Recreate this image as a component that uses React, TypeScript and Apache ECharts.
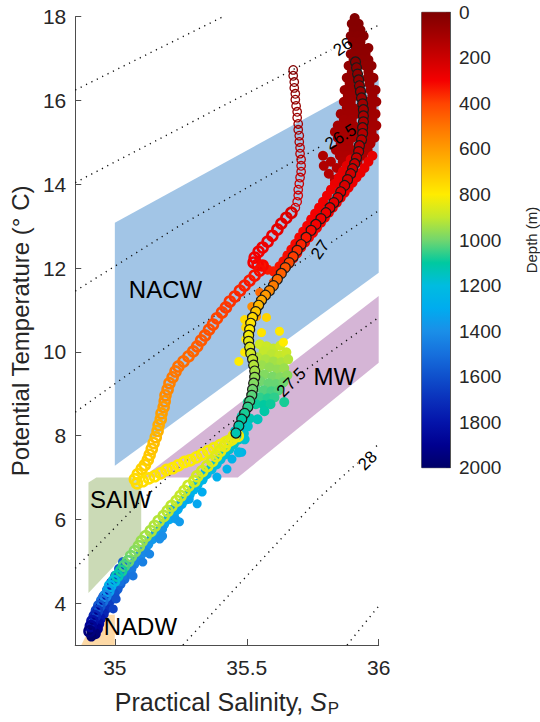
import React, { useEffect, useRef } from "react";
import * as echarts from "echarts";

const FONT = "'Liberation Sans', Arial, Helvetica, sans-serif";

// ---------- axes ----------
const SALINITY_MIN = 34.85;
const SALINITY_MAX = 36;
const SALINITY_TICKS = [35, 35.5, 36];
const TEMP_MIN = 3;
const TEMP_MAX = 18;
const TEMP_TICKS = [4, 6, 8, 10, 12, 14, 16, 18];
const DEPTH_MIN = 0;
const DEPTH_MAX = 2000;
const DEPTH_STEP = 200;

// depth colormap, 0 m -> 2000 m, every 100 m
const DEPTH_COLORS = [
  "#7f0000", "#a40000", "#cc0000", "#f50000", "#ff4400", "#ff7300", "#ff9c00",
  "#ffc400", "#ffec00", "#c4e82c", "#72d66e", "#00c9a0", "#00bce0", "#00acef",
  "#1a8fe8", "#1670dd", "#0f50cc", "#0a30bb", "#0414aa", "#000090", "#000068",
];

// ---------- water-mass regions [S, T] ----------
const NACW_REGION = [[35.0, 13.08], [36.0, 16.53], [36.0, 11.89], [35.0, 7.28]];
const MW_REGION = [[35.106, 7.0], [36.0, 11.33], [36.0, 9.74], [35.466, 7.0]];
const SAIW_REGION = [[34.9, 6.88], [34.93, 7.0], [35.1, 7.0], [35.1, 5.57], [34.9, 4.24]];
const NADW_REGION = [[34.873, 3.0], [35.0, 3.0], [35.0, 3.72], [34.93, 3.72]];

// ---------- isopycnals (sigma-theta) [S, T], "-" = gap for label ----------
const SIGMA_255 = [[34.85, 16.25], [35.41, 18.0]];
const SIGMA_260 = [[34.85, 14.04], [35.82, 17.21], "-", [35.91, 17.51], [36.0, 17.8]];
const SIGMA_265 = [[34.85, 11.45], [35.24, 12.99], [35.79, 14.94], "-", [35.91, 15.37], [36.0, 15.7]];
const SIGMA_270 = [[34.85, 8.56], [35.237, 10.3], [35.74, 12.29], "-", [35.82, 12.61], [36.0, 13.37]];
const SIGMA_275 = [[34.85, 4.83], [35.105, 6.48], [35.406, 8.15], [35.567, 8.87], [35.63, 9.15], "-", [35.71, 9.51], [36.0, 10.82]];
const SIGMA_280 = [[35.258, 3.0], [35.77, 6.49], [35.92, 7.35], "-", [35.99, 7.74], [36.0, 7.8]];
const SIGMA_285 = [[35.88, 3.0], [36.0, 3.93]];

const CONTOUR_LABELS = [
  { text: "26", s: 35.864, t: 17.28, angle: 35 },
  { text: "26.5", s: 35.856, t: 15.13, angle: 32 },
  { text: "27", s: 35.778, t: 12.44, angle: 55 },
  { text: "27.5", s: 35.669, t: 9.27, angle: 45 },
  { text: "28", s: 35.958, t: 7.4, angle: 45 },
];
const WATER_MASS_LABELS = [
  { text: "NACW", s: 35.192, t: 11.49, angle: 0 },
  { text: "MW", s: 35.834, t: 9.41, angle: 0 },
  { text: "SAIW", s: 35.022, t: 6.48, angle: 0 },
  { text: "NADW", s: 35.097, t: 3.45, angle: 0 },
];

// ---------- profiles [S, T, depth] ----------
// profile drawn with open circles
const OPEN_PROFILE = [
  [35.676, 16.73, 5], [35.676, 16.59, 15], [35.68, 16.44, 25], [35.68, 16.3, 35], [35.684, 16.16, 45],
  [35.684, 16.02, 55], [35.687, 15.87, 65], [35.691, 15.73, 75], [35.691, 15.59, 85], [35.695, 15.44, 95],
  [35.695, 15.3, 105], [35.699, 15.16, 115], [35.699, 15.01, 125], [35.702, 14.87, 135], [35.702, 14.73, 145],
  [35.706, 14.59, 155], [35.706, 14.44, 165], [35.706, 14.3, 175], [35.702, 14.16, 185], [35.699, 14.01, 195],
  [35.695, 13.87, 205], [35.695, 13.73, 212], [35.691, 13.58, 220], [35.684, 13.44, 228],
  [35.669, 13.32, 235], [35.65, 13.2, 245], [35.631, 13.06, 255], [35.616, 12.92, 262], [35.597, 12.77, 270],
  [35.579, 12.63, 277], [35.56, 12.49, 284], [35.545, 12.39, 290], [35.53, 12.25, 296], [35.526, 12.13, 300],
  [35.541, 12.08, 305], [35.56, 12.06, 310], [35.549, 11.94, 318], [35.53, 11.82, 326], [35.511, 11.7, 335],
  [35.492, 11.58, 345], [35.474, 11.46, 355], [35.455, 11.32, 365], [35.436, 11.2, 375], [35.421, 11.06, 385],
  [35.406, 10.94, 395], [35.387, 10.8, 405], [35.372, 10.65, 415], [35.357, 10.53, 425], [35.342, 10.39, 435],
  [35.327, 10.27, 445], [35.312, 10.13, 455], [35.297, 10.01, 465], [35.279, 9.89, 475], [35.26, 9.77, 485],
  [35.241, 9.65, 495], [35.23, 9.53, 505], [35.219, 9.39, 515], [35.207, 9.25, 530], [35.2, 9.1, 545],
  [35.192, 8.96, 560], [35.189, 8.82, 575], [35.185, 8.68, 590], [35.177, 8.53, 605], [35.174, 8.39, 620],
  [35.166, 8.25, 635], [35.162, 8.11, 650], [35.155, 7.96, 665], [35.147, 7.82, 680], [35.14, 7.68, 695],
  [35.132, 7.54, 705], [35.125, 7.42, 715], [35.114, 7.3, 725], [35.102, 7.2, 735], [35.087, 7.08, 745],
  [35.076, 6.96, 755], [35.084, 6.86, 760],
  [35.106, 6.91, 765], [35.129, 6.98, 770], [35.151, 7.03, 775], [35.174, 7.1, 780], [35.196, 7.18, 785],
  [35.219, 7.22, 790], [35.241, 7.29, 795], [35.264, 7.37, 800], [35.286, 7.41, 805], [35.309, 7.48, 810],
  [35.331, 7.55, 812], [35.354, 7.63, 815], [35.376, 7.7, 818], [35.399, 7.77, 821], [35.421, 7.84, 824],
  [35.444, 7.91, 827], [35.466, 7.99, 830],
  [35.451, 7.99, 835], [35.432, 7.87, 840], [35.417, 7.75, 845], [35.399, 7.63, 850], [35.384, 7.51, 855],
  [35.369, 7.39, 860], [35.35, 7.27, 865], [35.331, 7.15, 870], [35.312, 7.03, 875], [35.301, 6.91, 880],
  [35.279, 6.8, 885], [35.264, 6.68, 890], [35.249, 6.56, 895], [35.234, 6.44, 900], [35.215, 6.32, 905],
  [35.2, 6.2, 910], [35.185, 6.08, 915], [35.166, 5.96, 920], [35.151, 5.84, 925], [35.136, 5.72, 930],
  [35.117, 5.6, 940], [35.102, 5.48, 950], [35.091, 5.36, 960], [35.076, 5.24, 975], [35.061, 5.12, 990],
  [35.05, 5.0, 1010], [35.035, 4.89, 1040], [35.024, 4.77, 1080], [35.009, 4.65, 1130], [34.997, 4.53, 1190],
  [34.982, 4.41, 1260], [34.975, 4.29, 1340], [34.964, 4.17, 1420], [34.952, 4.05, 1500], [34.941, 3.93, 1580],
  [34.932, 3.81, 1660], [34.924, 3.69, 1740], [34.915, 3.57, 1810], [34.909, 3.45, 1880], [34.904, 3.33, 1950],
];

// profile drawn with dark-edged filled circles
const EDGED_PROFILE = [
  [35.912, 16.92, 20], [35.916, 16.78, 30], [35.92, 16.63, 40], [35.924, 16.49, 50], [35.927, 16.35, 60],
  [35.931, 16.21, 70], [35.935, 16.06, 80], [35.939, 15.92, 90], [35.942, 15.78, 100], [35.942, 15.63, 110],
  [35.942, 15.49, 120], [35.939, 15.35, 130], [35.939, 15.21, 140], [35.935, 15.06, 150], [35.927, 14.92, 160],
  [35.924, 14.78, 170], [35.916, 14.63, 180], [35.909, 14.49, 190], [35.901, 14.37, 200], [35.894, 14.25, 210],
  [35.882, 14.11, 220], [35.871, 13.97, 230], [35.856, 13.82, 240], [35.845, 13.68, 250], [35.83, 13.56, 260],
  [35.815, 13.44, 270], [35.8, 13.32, 280], [35.781, 13.18, 290], [35.762, 13.04, 300], [35.744, 12.9, 315],
  [35.725, 12.73, 330], [35.706, 12.56, 350], [35.691, 12.42, 370], [35.676, 12.27, 390], [35.661, 12.13, 410],
  [35.646, 12.01, 435], [35.631, 11.87, 460], [35.616, 11.73, 490], [35.601, 11.58, 520], [35.586, 11.46, 550],
  [35.571, 11.35, 590], [35.556, 11.23, 630], [35.545, 11.11, 670], [35.534, 10.96, 710], [35.522, 10.82, 750],
  [35.515, 10.68, 780], [35.511, 10.53, 800], [35.507, 10.39, 820], [35.507, 10.25, 840], [35.511, 10.11, 860],
  [35.515, 9.96, 880], [35.522, 9.82, 900], [35.526, 9.68, 920], [35.53, 9.54, 940], [35.53, 9.39, 960],
  [35.526, 9.25, 980], [35.522, 9.1, 1000], [35.519, 8.96, 1020], [35.511, 8.82, 1040], [35.504, 8.68, 1060],
  [35.492, 8.53, 1080], [35.481, 8.39, 1100], [35.47, 8.23, 1115], [35.459, 8.06, 1130],
];

// near-surface filled cloud
const SURFACE_CLOUD = [
  [35.909, 17.97, 10], [35.898, 17.83, 15], [35.924, 17.83, 15], [35.905, 17.68, 20], [35.931, 17.68, 20],
  [35.894, 17.54, 25], [35.92, 17.54, 25], [35.943, 17.54, 25], [35.901, 17.4, 30], [35.931, 17.4, 30],
  [35.913, 17.25, 35], [35.939, 17.25, 35], [35.961, 17.25, 35], [35.894, 17.11, 40], [35.924, 17.11, 40],
  [35.95, 17.11, 40], [35.905, 16.97, 45], [35.935, 16.97, 45], [35.961, 16.97, 45], [35.886, 16.83, 50],
  [35.95, 16.83, 50], [35.973, 16.83, 50], [35.898, 16.68, 55], [35.961, 16.68, 55], [35.879, 16.54, 60],
  [35.905, 16.54, 60], [35.958, 16.54, 60], [35.98, 16.54, 60], [35.89, 16.4, 65], [35.965, 16.4, 65],
  [35.871, 16.25, 70], [35.898, 16.25, 70], [35.969, 16.25, 70], [35.988, 16.25, 70], [35.883, 16.11, 75],
  [35.909, 16.11, 75], [35.976, 16.11, 75], [35.868, 15.97, 80], [35.894, 15.97, 80], [35.961, 15.97, 80],
  [35.991, 15.97, 80], [35.879, 15.82, 85], [35.905, 15.82, 85], [35.973, 15.82, 85], [35.856, 15.68, 90],
  [35.886, 15.68, 90], [35.913, 15.68, 90], [35.965, 15.68, 90], [35.988, 15.68, 90], [35.868, 15.54, 95],
  [35.898, 15.54, 95], [35.976, 15.54, 95], [35.845, 15.4, 100], [35.875, 15.4, 100], [35.905, 15.4, 100],
  [35.961, 15.4, 100], [35.991, 15.4, 100], [35.834, 15.25, 105], [35.86, 15.25, 105], [35.89, 15.25, 105],
  [35.916, 15.25, 105], [35.973, 15.25, 105], [35.845, 15.11, 110], [35.871, 15.11, 110], [35.901, 15.11, 110],
  [35.958, 15.11, 110], [35.984, 15.11, 110], [35.856, 14.97, 115], [35.886, 14.97, 115], [35.946, 14.97, 115],
  [35.969, 14.97, 115], [35.838, 14.82, 120], [35.868, 14.82, 120], [35.898, 14.82, 120], [35.958, 14.82, 120],
  [35.789, 14.68, 125], [35.853, 14.68, 125], [35.879, 14.68, 125], [35.939, 14.68, 125], [35.819, 14.54, 130],
  [35.864, 14.54, 130], [35.92, 14.54, 130], [35.792, 14.44, 130], [35.841, 14.39, 135], [35.894, 14.39, 135],
  [35.811, 14.25, 140], [35.868, 14.25, 140], [35.834, 14.11, 145], [35.849, 14.11, 145],
];

// ~300 m bright-red band
const RED_BAND = [
  [35.976, 14.68, 262], [35.961, 14.54, 266], [35.946, 14.39, 270], [35.931, 14.27, 274], [35.916, 14.16, 278],
  [35.901, 14.04, 282], [35.886, 13.92, 285], [35.871, 13.8, 288], [35.856, 13.68, 291], [35.841, 13.56, 294],
  [35.826, 13.44, 297], [35.811, 13.32, 300], [35.796, 13.2, 302], [35.781, 13.08, 304], [35.766, 12.96, 306],
  [35.751, 12.84, 308], [35.736, 12.73, 310], [35.721, 12.61, 312], [35.706, 12.49, 314], [35.691, 12.35, 316],
  [35.676, 12.23, 318], [35.661, 12.11, 320], [35.642, 12.01, 322],
  [35.894, 14.59, 250], [35.879, 14.44, 256], [35.864, 14.3, 262], [35.849, 14.16, 268], [35.834, 14.01, 274],
  [35.819, 13.87, 280], [35.804, 13.73, 284], [35.789, 13.58, 288], [35.774, 13.44, 292], [35.759, 13.3, 296],
  [35.744, 13.16, 300], [35.729, 13.01, 303], [35.714, 12.87, 306], [35.699, 12.73, 309], [35.684, 12.58, 312],
  [35.669, 12.44, 315], [35.654, 12.3, 318], [35.639, 12.16, 322], [35.624, 12.04, 328], [35.601, 11.92, 340],
  [35.579, 11.96, 335], [35.564, 12.06, 330],
];

// orange / yellow scattered points
const INTERMEDIATE_SCATTER = [
  [35.601, 11.66, 420], [35.549, 11.42, 480], [35.519, 11.08, 560], [35.537, 10.84, 620], [35.575, 10.82, 740],
  [35.556, 10.46, 780], [35.624, 10.49, 790], [35.639, 10.23, 800], [35.492, 9.99, 790], [35.47, 9.77, 800],
  [35.496, 10.58, 760], [35.496, 10.3, 800], [35.492, 10.77, 760],
];

// green cloud (Mediterranean influence)
const GREEN_CLOUD = [
  [35.549, 10.18, 880], [35.575, 10.13, 890], [35.601, 10.08, 900], [35.627, 10.15, 880], [35.564, 10.01, 900],
  [35.594, 9.94, 910], [35.624, 9.92, 900], [35.65, 9.99, 890], [35.541, 9.87, 920], [35.571, 9.82, 930],
  [35.601, 9.77, 940], [35.631, 9.75, 930], [35.657, 9.82, 920], [35.556, 9.68, 950], [35.586, 9.63, 960],
  [35.616, 9.58, 960], [35.642, 9.61, 950], [35.537, 9.53, 960], [35.567, 9.46, 980], [35.597, 9.41, 990],
  [35.627, 9.39, 980], [35.654, 9.44, 970], [35.552, 9.3, 1000], [35.582, 9.25, 1010], [35.612, 9.23, 1010],
  [35.639, 9.27, 1000], [35.534, 9.13, 1020], [35.564, 9.08, 1030], [35.594, 9.06, 1040], [35.62, 9.08, 1030],
  [35.519, 8.96, 1050], [35.549, 8.91, 1060], [35.579, 8.89, 1070], [35.605, 8.91, 1060], [35.504, 8.8, 1080],
  [35.534, 8.75, 1090], [35.564, 8.73, 1100], [35.59, 8.75, 1090], [35.642, 8.8, 1080], [35.567, 8.58, 1110],
  [35.481, 8.46, 1120], [35.511, 8.41, 1130], [35.541, 8.39, 1140], [35.474, 8.27, 1150], [35.504, 8.22, 1160],
  [35.455, 8.1, 1160], [35.489, 8.05, 1170], [35.492, 7.91, 1180], [35.47, 7.6, 1220],
];

// main deep band
const DEEP_BAND = [
  [35.466, 7.91, 1150], [35.449, 7.8, 1160], [35.432, 7.68, 1170], [35.417, 7.56, 1180], [35.399, 7.44, 1190],
  [35.384, 7.32, 1200], [35.365, 7.2, 1210], [35.346, 7.08, 1220], [35.331, 6.96, 1230], [35.312, 6.84, 1240],
  [35.297, 6.72, 1250], [35.282, 6.6, 1260], [35.267, 6.48, 1270], [35.252, 6.37, 1280], [35.237, 6.25, 1290],
  [35.222, 6.13, 1300], [35.204, 6.01, 1310], [35.185, 5.89, 1320], [35.174, 5.77, 1330], [35.155, 5.65, 1345],
  [35.14, 5.53, 1360], [35.125, 5.41, 1375], [35.114, 5.29, 1390], [35.099, 5.17, 1405], [35.087, 5.05, 1420],
  [35.072, 4.94, 1440], [35.061, 4.82, 1460], [35.046, 4.7, 1480], [35.035, 4.58, 1500], [35.02, 4.46, 1530],
  [35.009, 4.34, 1560], [34.997, 4.22, 1590], [34.986, 4.1, 1620], [34.975, 3.98, 1660], [34.964, 3.86, 1700],
  [34.956, 3.74, 1740], [34.945, 3.63, 1790], [34.939, 3.51, 1840], [34.934, 3.39, 1900], [34.926, 3.27, 1960],
];

// deepest, fresher edge of the band
const DEEP_EDGE = [
  [35.031, 4.98, 1550], [35.016, 4.82, 1600], [35.001, 4.65, 1650], [34.986, 4.49, 1700], [34.971, 4.32, 1750],
  [34.956, 4.15, 1800], [34.945, 3.98, 1850], [34.934, 3.82, 1880], [34.922, 3.65, 1920], [34.915, 3.48, 1950],
  [34.911, 3.32, 1980], [34.911, 3.2, 2000],
];

// scattered cyan / blue points right of the band
const BLUE_SCATTER = [
  [35.481, 7.6, 1250], [35.444, 7.44, 1260], [35.425, 7.2, 1260], [35.342, 7.13, 1300], [35.387, 7.01, 1280],
  [35.331, 6.65, 1300], [35.282, 6.48, 1320], [35.312, 6.37, 1320], [35.245, 6.32, 1330], [35.219, 6.25, 1340],
  [35.23, 6.01, 1350], [35.245, 5.94, 1360], [35.181, 5.77, 1380], [35.181, 5.6, 1400], [35.17, 5.53, 1400],
  [35.117, 5.22, 1420], [35.132, 5.17, 1430], [35.106, 4.98, 1450], [35.057, 4.82, 1460], [35.031, 4.65, 1480],
  [35.069, 4.65, 1480], [35.02, 4.51, 1500], [35.005, 4.1, 1600], [34.994, 3.86, 1650],
];

// ---------- helpers ----------
function hexToRgb(h: string) {
  const n = parseInt(h.slice(1), 16);
  return [(n >> 16) & 255, (n >> 8) & 255, n & 255];
}
function depthColor(d: number) {
  const n = DEPTH_COLORS.length - 1;
  const t = Math.min(Math.max((d - DEPTH_MIN) / (DEPTH_MAX - DEPTH_MIN), 0), 1) * n;
  const i = Math.min(Math.floor(t), n - 1);
  const f = t - i;
  const a = hexToRgb(DEPTH_COLORS[i]);
  const b = hexToRgb(DEPTH_COLORS[i + 1]);
  const c = a.map((v, k) => Math.round(v + (b[k] - v) * f));
  return `rgb(${c[0]},${c[1]},${c[2]})`;
}

export default function App() {
  const ref = useRef<HTMLDivElement>(null);

  useEffect(() => {
    if (!ref.current) return;
    const chart = echarts.init(ref.current, null, { renderer: "svg" });

    const regions = [
      { pts: NACW_REGION, color: "#a2c5e6" },
      { pts: MW_REGION, color: "#d5b5d6" },
      { pts: SAIW_REGION, color: "#cbdab6" },
      { pts: NADW_REGION, color: "#fdd9a6" },
    ];

    const filled = (arr: number[][]) =>
      arr.map(([s, t, d]) => ({ value: [s, t], itemStyle: { color: depthColor(d), opacity: 1 } }));
    const open = (arr: number[][]) =>
      arr.map(([s, t, d]) => {
        const shallow = d <= 230;
        return {
          value: [s, t],
          symbolSize: shallow ? 8.5 : 10,
          itemStyle: {
            color: "rgba(0,0,0,0)",
            borderColor: depthColor(d),
            borderWidth: shallow ? 1.3 : 2.6,
            opacity: 1,
          },
        };
      });
    const edged = (arr: number[][]) =>
      arr.map(([s, t, d]) => ({
        value: [s, t],
        itemStyle: { color: depthColor(d), borderColor: "#1a1a1a", borderWidth: 1.2, opacity: 1 },
      }));

    const contourStyle = { color: "#111111", width: 1.4, type: [1.2, 4.8] as any };
    const contour = (data: any[]) => ({
      type: "line",
      data,
      showSymbol: false,
      symbol: "none",
      lineStyle: contourStyle,
      silent: true,
      z: 2,
      connectNulls: false,
    });
    const dots = (data: any[], size: number) => ({
      type: "scatter",
      symbol: "circle",
      symbolSize: size,
      itemStyle: { opacity: 1 },
      data,
      silent: true,
      z: 3,
    });
    const textSeries = (items: { text: string; s: number; t: number; angle: number }[], fontSize: number) => ({
      type: "custom",
      xAxisIndex: 0,
      yAxisIndex: 0,
      silent: true,
      z: 6,
      clip: false,
      data: items.map((c) => [c.s, c.t]),
      renderItem: (params: any, api: any) => {
        const c = items[params.dataIndex];
        const p = api.coord([c.s, c.t]);
        return {
          type: "text",
          x: p[0],
          y: p[1],
          rotation: (c.angle * Math.PI) / 180,
          style: {
            text: c.text,
            fill: "#000000",
            fontSize,
            fontFamily: FONT,
            align: "center",
            verticalAlign: "middle",
            textAlign: "center",
            textVerticalAlign: "middle",
          },
        };
      },
    });

    const stops = DEPTH_COLORS.map((c, i) => ({ offset: i / (DEPTH_COLORS.length - 1), color: c }));

    chart.setOption({
      animation: false,
      backgroundColor: "#ffffff",
      textStyle: { fontFamily: FONT },
      grid: [
        { left: 71.7, top: 16.7, right: 161.3, bottom: 76.3, containLabel: false },
        {
          left: 421.7, top: 12.3, width: 30, height: 455.4, show: true,
          borderColor: "#555555", borderWidth: 1, backgroundColor: "transparent",
        },
      ],
      xAxis: [
        {
          type: "value", gridIndex: 0, min: SALINITY_MIN, max: SALINITY_MAX,
          axisLine: { show: true, onZero: false, lineStyle: { color: "#4d4d4d", width: 1 } },
          axisTick: { show: true, inside: true, length: 6, customValues: SALINITY_TICKS, lineStyle: { color: "#4d4d4d" } },
          axisLabel: {
            customValues: SALINITY_TICKS, formatter: (v: number) => String(v),
            fontSize: 21, color: "#262626", margin: 12, fontFamily: FONT,
          },
          splitLine: { show: false },
          name: "Practical Salinity, {i|S}{sub|P}",
          nameLocation: "middle", nameGap: 41,
          nameTextStyle: {
            fontSize: 25, color: "#262626", fontFamily: FONT,
            rich: {
              i: { fontSize: 25, fontStyle: "italic", color: "#262626", fontFamily: FONT },
              sub: { fontSize: 17, color: "#262626", fontFamily: FONT, padding: [14, 0, 0, 1] },
            },
          },
        },
        { type: "category", gridIndex: 1, data: ["depth"], show: false },
      ],
      yAxis: [
        {
          type: "value", gridIndex: 0, min: TEMP_MIN, max: TEMP_MAX,
          axisLine: { show: true, onZero: false, lineStyle: { color: "#4d4d4d", width: 1 } },
          axisTick: { show: true, inside: true, length: 6, customValues: TEMP_TICKS, lineStyle: { color: "#4d4d4d" } },
          axisLabel: { customValues: TEMP_TICKS, fontSize: 21, color: "#262626", margin: 9, fontFamily: FONT },
          splitLine: { show: false },
          name: "Potential Temperature (° C)",
          nameLocation: "middle", nameRotate: 90, nameGap: 37,
          nameTextStyle: { fontSize: 24, color: "#262626", fontFamily: FONT },
        },
        {
          type: "value", gridIndex: 1, min: DEPTH_MIN, max: DEPTH_MAX, interval: DEPTH_STEP,
          inverse: true, position: "right",
          axisLine: { show: true, lineStyle: { color: "#555555" } },
          axisTick: { show: true, inside: true, length: 4, lineStyle: { color: "#555555" } },
          axisLabel: {
            fontSize: 19, color: "#262626", margin: 9, fontFamily: FONT,
            formatter: (v: number) => String(v),
          },
          splitLine: { show: false },
          name: "Depth (m)", nameLocation: "middle", nameRotate: 90, nameGap: 74,
          nameTextStyle: { fontSize: 15, color: "#262626", fontFamily: FONT },
        },
      ],
      series: [
        {
          type: "custom",
          xAxisIndex: 0, yAxisIndex: 0,
          silent: true, z: 1,
          data: regions.map((r) => r.pts[0]),
          renderItem: (params: any, api: any) => {
            const r = regions[params.dataIndex];
            return {
              type: "polygon",
              shape: { points: r.pts.map((p) => api.coord(p)) },
              style: { fill: r.color },
            };
          },
        },
        contour(SIGMA_255),
        contour(SIGMA_260),
        contour(SIGMA_265),
        contour(SIGMA_270),
        contour(SIGMA_275),
        contour(SIGMA_280),
        contour(SIGMA_285),
        dots(filled(DEEP_BAND), 11),
        dots(filled(DEEP_EDGE), 10),
        {
          type: "line",
          data: DEEP_BAND.map((p) => [p[0], p[1]]),
          showSymbol: false, symbol: "none", silent: true, z: 3,
          lineStyle: { color: "#111111", width: 1, opacity: 0.8 },
        },
        dots(filled(BLUE_SCATTER), 9),
        dots(filled(GREEN_CLOUD), 10),
        dots(filled(INTERMEDIATE_SCATTER), 9),
        dots(filled(SURFACE_CLOUD), 10),
        dots(filled(RED_BAND), 10),
        dots(open(OPEN_PROFILE), 10),
        dots(edged(EDGED_PROFILE), 10),
        textSeries(CONTOUR_LABELS, 17),
        textSeries(WATER_MASS_LABELS, 24),
        {
          type: "bar",
          xAxisIndex: 1, yAxisIndex: 1,
          data: [DEPTH_MAX],
          barWidth: "100%",
          silent: true,
          itemStyle: { color: new echarts.graphic.LinearGradient(0, 0, 0, 1, stops) },
        },
      ],
    });

    return () => chart.dispose();
  }, []);

  return (
    <div
      ref={ref}
      style={{ position: "fixed", left: 0, top: 0, width: 540, height: 722, background: "#ffffff" }}
    />
  );
}
